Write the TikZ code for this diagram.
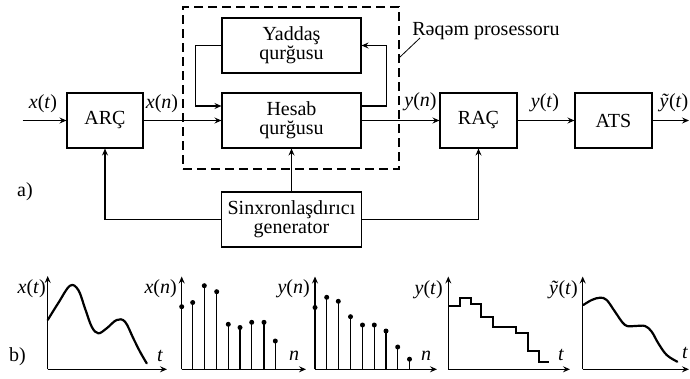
\documentclass[tikz,border=0pt]{standalone}
\usepackage{fontspec}
\setmainfont{Liberation Serif}
\usetikzlibrary{arrows.meta}
\newcommand{\mysig}[2]{\textit{#1}(\textit{#2})}
\begin{document}
\begin{tikzpicture}[x=1pt,y=-1pt,
  every node/.style={font=\fontsize{20}{19}\selectfont, inner sep=0pt},
  box/.style={draw, line width=1.1pt, align=center, minimum height=55pt},
  dashbox/.style={draw, line width=1.1pt, dash pattern=on 9pt off 5pt},
  arr/.style={line width=1.1pt, -{Stealth[length=7pt,width=6pt,inset=2.5pt]}},
  plain/.style={line width=1.1pt},
  axis/.style={line width=1.1pt, -{Stealth[length=7pt,width=6pt,inset=2.5pt]}},
  curve/.style={line width=2.2pt, line join=round, line cap=round},
  stem/.style={line width=1.1pt},
  lbl/.style={anchor=base}
]
\useasboundingbox (0,0) rectangle (690,378);

% ---------- block diagram ----------
\node[dashbox, minimum width=216pt, minimum height=162pt] (proc) at (291,88) {};
\node[box, minimum width=76pt] (arc) at (105,120.5) {ARÇ};
\node[box, minimum width=139pt] (yad) at (291.5,45.5) {Yaddaş\\qurğusu};
\node[box, minimum width=139pt] (hes) at (291.5,120.5) {Hesab\\qurğusu};
\node[box, minimum width=77pt] (rac) at (478.5,120.5) {RAÇ};
\node[box, minimum width=77pt] (ats) at (613.5,120.5) {ATS};
\node[box, minimum width=140pt] (gen) at (291.5,219.5) {Sinxronlaşdırıcı\\generator};

\node[anchor=base] (rp) at (486,35) {Rəqəm prosessoru};
\coordinate (ld1) at (420,38);
\coordinate (ld2) at (400,57);
\draw[line width=0.8pt] (ld1) -- (ld2);

\coordinate (in) at (22.7,120.5);
\coordinate (out) at (689,120.5);

\draw[arr] (in) -- (arc);
\draw[arr] (arc) -- (hes);
\draw[arr] (yad.west) -- ++(-26,0) |- ([yshift=14.5pt]hes.west);
\draw[arr] ([yshift=14.5pt]hes.east) -- ++(25,0) |- (yad.east);
\draw[arr] (hes) -- (rac);
\draw[arr] (rac) -- (ats);
\draw[arr] (ats) -- (out);
\draw[arr] (gen) -- (hes);
\draw[arr] (gen.west) -| (arc.south);
\draw[arr] (gen.east) -| (rac.south);

\node[lbl] (lxt) at (43,108) {\mysig{x}{t}};
\node[lbl] (lxn) at (162,108) {\mysig{x}{n}};
\node[lbl] (lyn) at (420.5,106.5) {\mysig{y}{n}};
\node[lbl] (lyt) at (545,107) {\mysig{y}{t}};
\node[lbl] (lyy) at (674,107) {\textit{ỹ}(\textit{t})};

\node[anchor=base west] (la) at (17,196) {a)};
\node[anchor=base west] (lb) at (9,361) {b)};

% ---------- plot 1: x(t) ----------
\draw[axis] (47.7,369.3) -- (47.7,276);
\draw[axis] (47.7,369.3) -- (167,369.3);
\node[anchor=base east] (p1y) at (46,293) {\mysig{x}{t}};
\node[lbl] (p1x) at (160,361) {\textit{t}};
\draw[curve] plot[smooth, tension=0.6] coordinates {(47.7,320) (58.3,303) (70,285.7) (78.3,290) (85,308.3) (91.7,326.7) (98.3,333.3) (106.7,328.3) (116.7,320) (125,321.7) (133.3,338.3) (140,351.7) (146.7,363.3)};

% ---------- plot 2: x(n) ----------
\draw[axis] (181.7,369.3) -- (181.7,276.5);
\draw[axis] (181.7,369.3) -- (306,369.3);
\node[anchor=base east] (p2y) at (177,293) {\mysig{x}{n}};
\node[lbl] (p2x) at (294,360) {\textit{n}};
\foreach \px/\py in {181.7/306.7, 192.7/302.5, 204.3/285.7, 216.7/291.7, 228.3/324.3, 240/327.5, 251.7/322.3, 264/322.3, 275.3/341} {
  \draw[stem] (\px,369.3) -- (\px,\py);
  \fill (\px,\py) circle (2.5pt);
}

% ---------- plot 3: y(n) ----------
\draw[axis] (315,369.3) -- (315,276.5);
\draw[axis] (315,369.3) -- (437,369.3);
\node[anchor=base east] (p3y) at (310,293) {\mysig{y}{n}};
\node[lbl] (p3x) at (426,360) {\textit{n}};
\foreach \px/\py in {315/307.5, 326.7/297.3, 338.3/301.3, 350.5/316.7, 362.5/325, 374.3/325, 386/331, 397.7/347, 409.5/359.2} {
  \draw[stem] (\px,369.3) -- (\px,\py);
  \fill (\px,\py) circle (2.5pt);
}

% ---------- plot 4: y(t) ----------
\draw[axis] (448.3,369.3) -- (448.3,276.5);
\draw[axis] (448.3,369.3) -- (570,369.3);
\node[anchor=base east] (p4y) at (443,294) {\mysig{y}{t}};
\node[lbl] (p4x) at (561,360) {\textit{t}};
\draw[line width=2pt, line join=miter] (448.3,306) -| (460,298.3) -| (471,304) -| (481,316.7) -| (492.7,326.7) -| (516,332.7) -| (527.7,350.7) -| (539,361.7) -- (549,361.7);

% ---------- plot 5: y~(t) ----------
\draw[axis] (582.7,369.3) -- (582.7,276.5);
\draw[axis] (582.7,369.3) -- (689,369.3);
\node[anchor=base east] (p5y) at (578,294) {\textit{ỹ}(\textit{t})};
\node[lbl] (p5x) at (685,358) {\textit{t}};
\draw[curve] plot[smooth, tension=0.6] coordinates {(583.3,305) (591.7,300) (600,297.7) (606.7,300) (615,311.7) (625,325) (635,326) (645,326) (651.7,331.7) (658.3,343.3) (666.7,355) (677.3,361.7)};
\end{tikzpicture}
\end{document}
